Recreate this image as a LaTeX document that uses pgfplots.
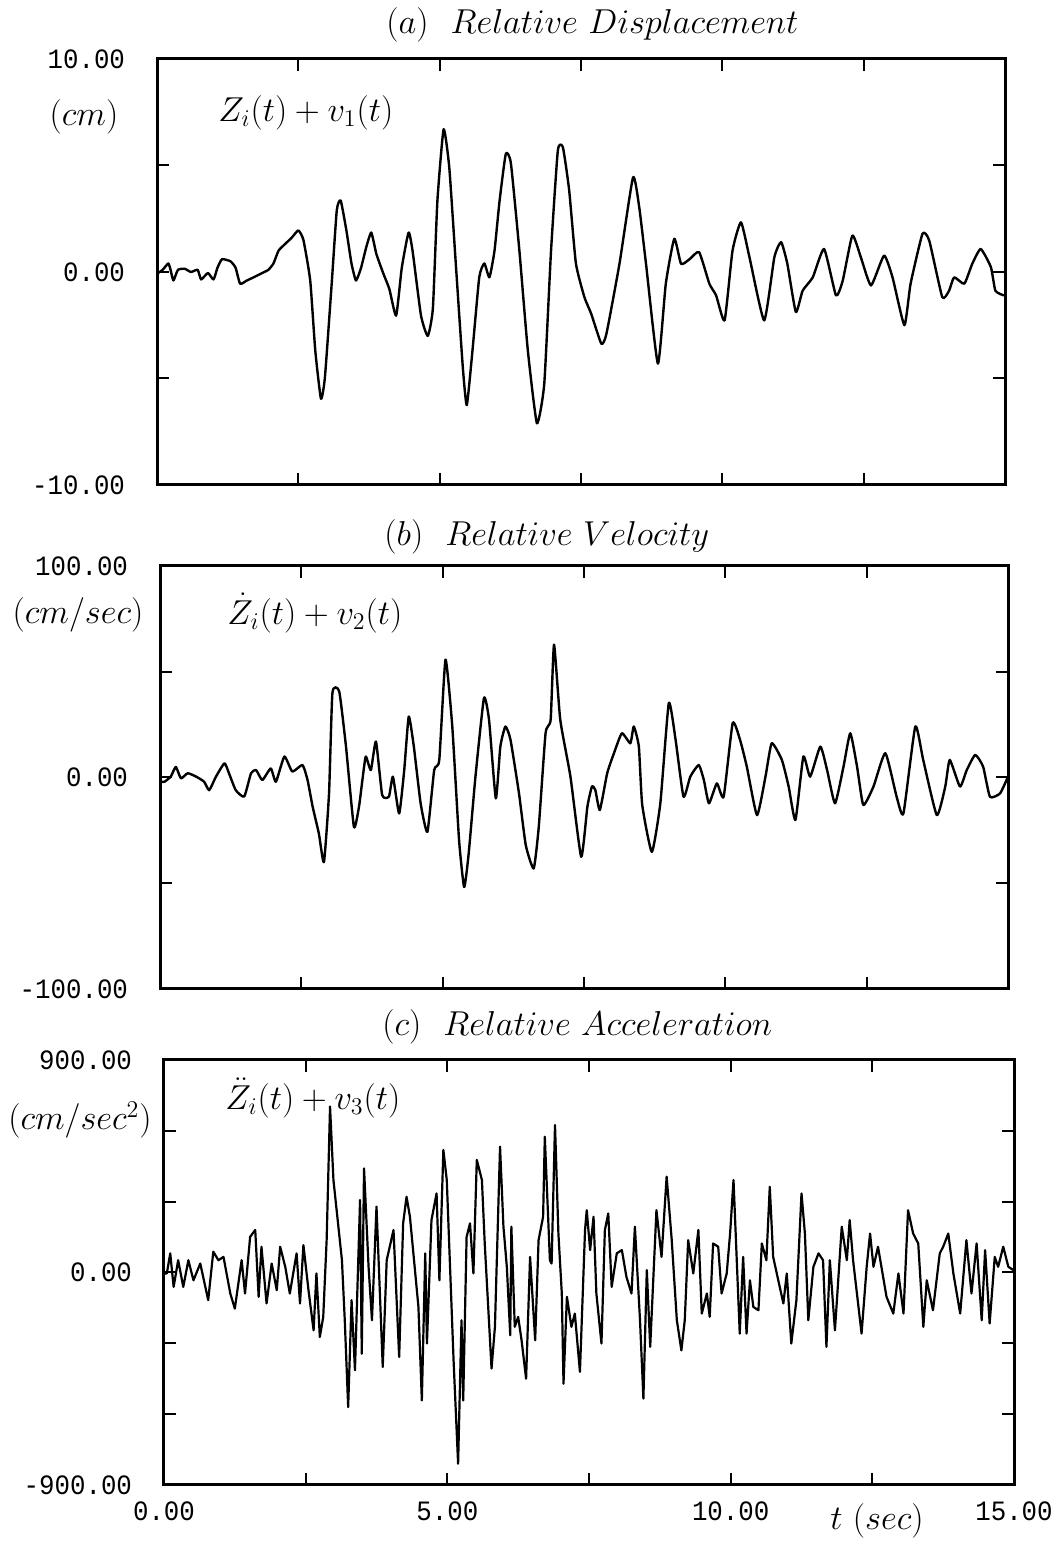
\documentclass[border=0pt]{standalone}
\usepackage{pgfplots}
\pgfplotsset{compat=1.18}
\usepackage{fontspec}
\newfontfamily\ticktt[FakeStretch=0.92]{Liberation Mono}

\pgfplotsset{
  panel/.style={
    scale only axis, width=424pt, height=213pt,
    xmin=0, xmax=15,
    xtick={0,2.5,5,7.5,10,12.5,15},
    xticklabels={},
    tick align=inside,
    major tick length=6pt,
    tick style={line width=1pt, black},
    axis line style={line width=1.5pt},
    ticklabel style={font=\fontsize{14}{16}\ticktt},
    yticklabel style={xshift=-12.5pt},
    xticklabel style={yshift=-5pt},
  },
  sig/.style={black, line width=1.2pt, line join=round},
}

\begin{document}
\begin{tikzpicture}
\useasboundingbox (0,0) rectangle (530pt,775pt);

% ---------------- (a) ----------------
\begin{axis}[panel, at={(78.5pt,532.5pt)}, anchor=south west,
  ymin=-10, ymax=10, ytick={-10,-5,0,5,10}, yticklabels={-10.00,,0.00,,10.00}]
\addplot[sig, smooth, tension=0.3] coordinates {
(0.02,-0.05) (0.10,0.10) (0.20,0.40) (0.24,0.10) (0.29,-0.40) (0.37,0.10) (0.49,0.15)
(0.60,0.00) (0.72,0.10) (0.78,-0.35) (0.90,-0.05) (1.00,-0.35) (1.07,0.20) (1.15,0.60)
(1.30,0.50) (1.39,0.20) (1.47,-0.55) (1.59,-0.40) (1.71,-0.25) (1.86,-0.05) (1.97,0.10)
(2.06,0.40) (2.15,1.00) (2.26,1.30) (2.38,1.60) (2.50,1.95) (2.59,1.50) (2.71,-0.40)
(2.80,-3.70) (2.90,-5.95) (2.97,-4.95) (3.09,-0.55) (3.18,2.90) (3.25,3.35) (3.35,1.95)
(3.44,0.40) (3.52,-0.40) (3.61,0.20) (3.70,1.15) (3.79,1.85) (3.88,0.85) (4.00,-0.05)
(4.11,-0.80) (4.23,-2.05) (4.33,0.20) (4.45,1.85) (4.52,1.00) (4.67,-2.05) (4.79,-3.00)
(4.88,-1.70) (4.96,3.35) (5.07,6.70) (5.17,4.90) (5.29,0.20) (5.41,-4.50) (5.48,-6.25)
(5.58,-3.70) (5.70,-0.25) (5.79,0.40) (5.88,-0.25) (5.97,1.00) (6.06,3.35) (6.17,5.55)
(6.26,5.10) (6.41,1.00) (6.56,-3.70) (6.72,-7.10) (6.85,-5.25) (6.97,1.00) (7.09,5.70)
(7.18,5.85) (7.29,3.85) (7.41,0.40) (7.56,-1.18) (7.68,-1.96) (7.86,-3.37) (7.95,-2.90)
(8.18,0.38) (8.42,4.44) (8.53,3.04) (8.65,0.38) (8.86,-4.30) (9.00,-0.55) (9.15,1.56)
(9.27,0.38) (9.42,0.60) (9.59,0.93) (9.77,-0.55) (9.89,-1.10) (10.04,-2.27) (10.18,1.00)
(10.33,2.33) (10.48,0.69) (10.74,-2.27) (10.92,0.69) (11.04,1.40) (11.15,0.38) (11.30,-1.88)
(11.42,-0.88) (11.60,-0.25) (11.80,1.08) (12.01,-1.10) (12.13,-0.40) (12.30,1.71) (12.45,0.69)
(12.63,-0.63) (12.86,0.77) (13.01,-0.25) (13.22,-2.50) (13.33,-0.55) (13.54,1.79) (13.66,1.47)
(13.89,-1.18) (14.01,-0.88) (14.10,-0.25) (14.28,-0.55) (14.42,0.38) (14.57,1.08) (14.75,0.23)
(14.83,-0.88) (14.98,-1.10)
};
\end{axis}

% ---------------- (b) ----------------
\begin{axis}[panel, at={(80pt,280.5pt)}, anchor=south west, height=211.5pt,
  ymin=-100, ymax=100, ytick={-100,-50,0,50,100}, yticklabels={-100.00,,0.00,,100.00}]
\addplot[sig, smooth, tension=0.3] coordinates {
(0.02,-2) (0.08,-2) (0.19,0.4) (0.28,5) (0.37,-0.4) (0.49,2) (0.64,0.4) (0.78,-2) (0.87,-6)
(0.99,0.4) (1.14,6.7) (1.22,2) (1.34,-6) (1.49,-9) (1.61,2) (1.70,3.5) (1.81,-1.2) (1.96,4.3)
(2.05,-2) (2.20,9.9) (2.34,2.8) (2.52,5.9) (2.61,-1.2) (2.70,-13.8) (2.81,-26.5) (2.90,-40)
(2.99,-7.5) (3.05,40) (3.17,40.7) (3.29,14.6) (3.43,-23.3) (3.52,-13.8) (3.58,-1.2) (3.64,9.9)
(3.73,3.5) (3.82,17) (3.93,-8.3) (4.05,-9) (4.12,0.4) (4.23,-17) (4.32,3.5) (4.40,28.8)
(4.49,14.6) (4.61,-12.2) (4.73,-25.7) (4.85,3.5) (4.94,8.3) (5.05,55.7) (5.17,24.1) (5.29,-29.6)
(5.38,-51.8) (5.46,-36) (5.58,0.4) (5.73,37.5) (5.82,27.3) (5.94,-9.9) (6.02,14.6) (6.11,24.1)
(6.20,17.8) (6.35,-7.5) (6.47,-32) (6.61,-43) (6.70,-23.3) (6.82,20.9) (6.91,27.3) (6.97,62.8)
(7.08,27.3) (7.26,0.4) (7.45,-37.5) (7.56,-13.8) (7.64,-4.3) (7.70,-5.9) (7.78,-15.4) (7.91,2)
(8.03,11.5) (8.17,20.9) (8.32,16.2) (8.38,24.1) (8.47,14.6) (8.53,-13) (8.70,-35.2) (8.85,-12.2)
(9.00,35.2) (9.12,17.8) (9.26,-9.1) (9.38,0.4) (9.53,5.9) (9.62,-1.2) (9.71,-12.2) (9.85,-2.8)
(9.97,-9.1) (10.13,25.7) (10.26,17.8) (10.38,5.1) (10.56,-17.8) (10.71,0.4) (10.82,16.2)
(11.00,8.3) (11.12,-4.3) (11.24,-20.1) (11.38,9.9) (11.50,0.4) (11.68,14.6) (11.80,3.5)
(11.94,-12.2) (12.09,5.1) (12.21,20.9) (12.33,5.1) (12.44,-13) (12.62,-4.3) (12.83,11.5)
(13.03,-9.1) (13.15,-17) (13.36,24.1) (13.50,8.3) (13.74,-17.8) (13.89,-4.3) (13.97,8.3)
(14.15,-4.3) (14.27,3.5) (14.42,10.7) (14.56,5.1) (14.68,-9.1) (14.86,-7.5) (15.00,0.4)
};
\end{axis}

% ---------------- (c) ----------------
\begin{axis}[panel, at={(82pt,32.5pt)}, anchor=south west, width=425pt, height=212.5pt,
  ymin=-900, ymax=900, ytick={-900,-600,-300,0,300,600,900},
  yticklabels={-900.00,,,0.00,,,900.00},
  xticklabels={0.00,,5.00,,10.00,,15.00}]
\addplot[sig, line width=1.1pt] coordinates {
(0.02,-4) (0.05,-4) (0.11,81) (0.17,-61) (0.25,52) (0.34,-61) (0.43,52) (0.52,-33) (0.64,38)
(0.78,-117) (0.87,88) (0.96,52) (1.05,66) (1.17,-89) (1.25,-153) (1.37,52) (1.43,-89)
(1.52,151) (1.61,180) (1.67,-103) (1.72,109) (1.81,-131) (1.90,38) (1.99,-75) (2.05,109)
(2.14,24) (2.22,-89) (2.34,81) (2.40,-131) (2.46,116) (2.55,-75) (2.64,-245) (2.69,-4)
(2.75,-273) (2.81,-188) (2.87,137) (2.93,703) (2.99,392) (3.14,52) (3.19,-202) (3.25,-570)
(3.31,-117) (3.37,-414) (3.46,307) (3.49,-344) (3.53,441) (3.61,24) (3.67,-202) (3.75,279)
(3.81,-89) (3.86,-400) (3.93,52) (4.05,180) (4.15,-358) (4.22,208) (4.28,321) (4.34,236)
(4.49,-146) (4.55,-542) (4.61,81) (4.64,-301) (4.72,222) (4.81,335) (4.86,-33) (4.93,519)
(4.99,392) (5.11,-372) (5.19,-810) (5.25,-202) (5.28,-542) (5.34,151) (5.40,208) (5.46,-4)
(5.52,477) (5.61,392) (5.66,123) (5.75,-273) (5.78,-407) (5.84,-230) (5.93,533) (5.99,194)
(6.05,24) (6.11,-266) (6.13,194) (6.19,-230) (6.25,-188) (6.31,-287) (6.39,-450) (6.46,66)
(6.55,-287) (6.61,137) (6.69,236) (6.72,575) (6.81,52) (6.84,38) (6.90,625) (6.96,165)
(7.02,-89) (7.05,-471) (7.11,-103) (7.19,-230) (7.25,-174) (7.34,-421) (7.43,180) (7.46,264)
(7.52,95) (7.58,236) (7.63,-89) (7.72,-301) (7.78,180) (7.84,250) (7.90,-61) (7.99,81)
(8.08,95) (8.16,-18) (8.25,-89) (8.31,194) (8.40,-202) (8.46,-534) (8.52,10) (8.58,-315)
(8.69,264) (8.78,66) (8.87,406) (8.96,137) (9.05,-202) (9.13,-330) (9.19,-202) (9.25,137)
(9.34,-4) (9.43,180) (9.49,-174) (9.58,-89) (9.63,-188) (9.69,123) (9.78,109) (9.84,-89)
(9.93,-4) (9.99,165) (10.05,392) (10.16,-259) (10.22,66) (10.28,-259) (10.34,-33) (10.40,-146)
(10.49,-160) (10.55,123) (10.63,52) (10.69,363) (10.75,66) (10.84,-33) (10.93,-131) (10.99,-4)
(11.07,-301) (11.16,-117) (11.25,335) (11.31,165) (11.37,-202) (11.46,24) (11.55,81) (11.63,52)
(11.69,-315) (11.75,52) (11.84,-245) (11.96,194) (12.05,52) (12.10,222) (12.16,52) (12.31,-259)
(12.40,24) (12.46,165) (12.52,24) (12.60,109) (12.75,-103) (12.87,-174) (12.96,-4) (13.05,-174)
(13.13,264) (13.22,165) (13.31,123) (13.40,-230) (13.46,-33) (13.57,-160) (13.69,81) (13.75,109)
(13.84,165) (13.93,-4) (14.05,-174) (14.16,137) (14.25,-89) (14.34,123) (14.43,-202) (14.49,95)
(14.57,-216) (14.66,66) (14.72,24) (14.81,109) (14.90,24) (14.99,10)
};
\end{axis}

% titles
\node[anchor=west, font=\fontsize{17.5}{20}\selectfont, inner sep=0pt] at (193pt,762.5pt)
  {$(a)$\hspace{11pt}$Relative\ Displacement$};
\node[anchor=west, font=\fontsize{17.5}{20}\selectfont, inner sep=0pt] at (192pt,506.5pt)
  {$(b)$\hspace{11pt}$Relative\ Velocity$};
\node[anchor=west, font=\fontsize{17.5}{20}\selectfont, inner sep=0pt] at (191pt,261.5pt)
  {$(c)$\hspace{11pt}$Relative\ Acceleration$};

% units
\node[font=\fontsize{17}{20}\selectfont, inner sep=0pt] at (42pt,716.5pt) {$(cm)$};
\node[font=\fontsize{17}{20}\selectfont, inner sep=0pt] at (39pt,467.5pt) {$(cm/sec)$};
\node[font=\fontsize{17}{20}\selectfont, inner sep=0pt] at (40pt,215pt) {$(cm/sec^2)$};

% curve labels
\node[anchor=west, font=\fontsize{17.5}{20}\selectfont, inner sep=0pt] at (109pt,718.5pt)
  {$Z_i(t) + v_1(t)$};
\node[anchor=west, font=\fontsize{17.5}{20}\selectfont, inner sep=0pt] at (113.5pt,468.5pt)
  {$\dot{Z}_i(t) + v_2(t)$};
\node[anchor=west, font=\fontsize{17.5}{20}\selectfont, inner sep=0pt] at (112.5pt,226pt)
  {$\ddot{Z}_i(t) + v_3(t)$};

% x axis label
\node[font=\fontsize{17}{20}\selectfont, inner sep=0pt] at (438.5pt,14.5pt) {$t\ (sec)$};
\end{tikzpicture}
\end{document}
